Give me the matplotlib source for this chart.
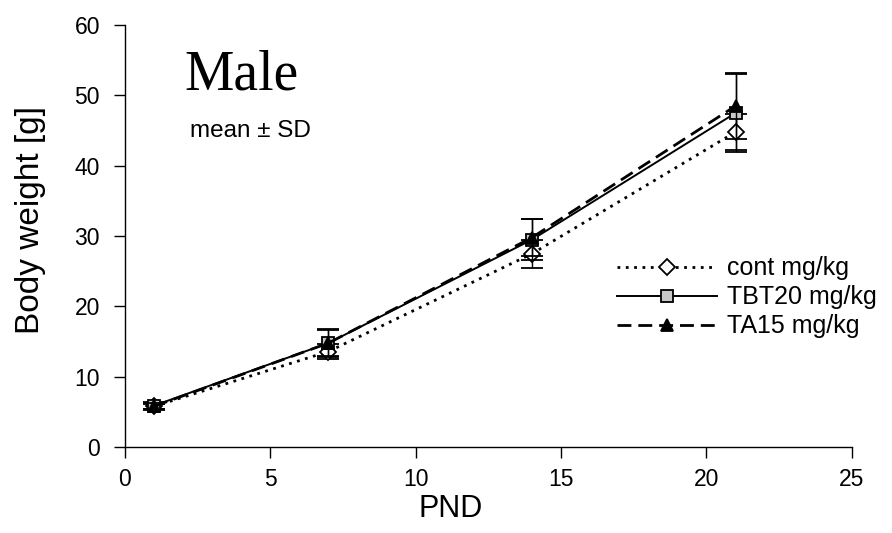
import matplotlib.pyplot as plt

# Postnatal day and body weights (mean, SD) per group
pnd = [1, 7, 14, 21]
cont_mean = [5.8, 13.6, 27.5, 44.8]
cont_sd = [0.4, 1.1, 2.0, 2.6]
tbt_mean = [5.9, 14.8, 29.5, 47.5]
tbt_sd = [0.5, 1.8, 2.9, 5.5]
ta_mean = [5.8, 14.8, 29.8, 48.5]
ta_sd = [0.5, 2.0, 2.6, 4.7]

plt.rcParams["font.family"] = ["Liberation Sans", "DejaVu Sans"]

fig = plt.figure(figsize=(8.92, 5.33), dpi=100)
ax = fig.add_axes([0.140, 0.161, 0.815, 0.792])

common = dict(color="black", ecolor="black", elinewidth=1.0, capsize=8,
              capthick=1.0, markersize=9, markeredgecolor="black",
              markeredgewidth=1.3, lw=2.0)

c1 = ax.errorbar(pnd, cont_mean, yerr=cont_sd, ls=(0, (1, 2)), marker="D",
                 markerfacecolor="white", label="cont mg/kg", zorder=3,
                 **{**common, "markersize": 8})
c2 = ax.errorbar(pnd, tbt_mean, yerr=tbt_sd, ls="-", marker="s",
                 markerfacecolor="#c8c8c8", label="TBT20 mg/kg", zorder=4,
                 **{**common, "lw": 1.4})
c3 = ax.errorbar(pnd, ta_mean, yerr=ta_sd, ls=(0, (5, 2.5)), marker="^",
                 markerfacecolor="black", label="TA15 mg/kg", zorder=5,
                 **common)

ax.set_xlim(0, 25)
ax.set_ylim(0, 60)
ax.set_xticks(range(0, 26, 5))
ax.set_yticks(range(0, 61, 10))
ax.spines["top"].set_visible(False)
ax.spines["right"].set_visible(False)
for s in ("left", "bottom"):
    ax.spines[s].set_linewidth(1.0)
ax.tick_params(direction="out", length=8, width=1.0, labelsize=16.5)
ax.tick_params(axis="y", pad=10)
ax.tick_params(axis="x", pad=7)

ax.set_xlabel("PND", fontsize=22)
ax.xaxis.set_label_coords(0.448, -0.112)
ax.set_ylabel("Body weight [g]", fontsize=24)
ax.yaxis.set_label_coords(-0.108, 0.538)

ax.text(0.082, 0.847, "Male", transform=ax.transAxes, fontsize=40,
        family="Liberation Serif", va="baseline", ha="left")
ax.text(0.089, 0.75, "mean \u00b1 SD", transform=ax.transAxes, fontsize=17.5,
        va="center", ha="left")

ax.legend(handles=[c1[0], c2[0], c3[0]],
          labels=["cont mg/kg", "TBT20 mg/kg", "TA15 mg/kg"],
          loc="center left", bbox_to_anchor=(0.677, 0.355), frameon=False,
          fontsize=18, handlelength=4.0, handletextpad=0.4,
          labelspacing=0.2, borderpad=0, borderaxespad=0)

fig.savefig("out.png", dpi=100)
